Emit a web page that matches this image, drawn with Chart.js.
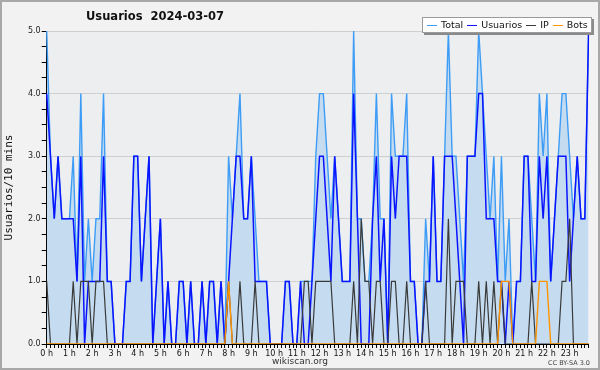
<!DOCTYPE html>
<html>
<head>
<meta charset="utf-8">
<title>Usuarios 2024-03-07</title>
<script src="https://cdn.jsdelivr.net/npm/chart.js@4.4.1/dist/chart.umd.min.js"></script>
<style>
  html, body { margin: 0; padding: 0; background: #f2f2f2; }
  #marco { position: relative; width: 600px; height: 370px; overflow: hidden; font-family: 'DejaVu Sans', sans-serif; }
  #grafico { position: absolute; left: 0; top: 0; }
  #borde { position: absolute; left: 0; top: 0; width: 600px; height: 370px; box-sizing: border-box; border: 2px solid #a8a8a8; pointer-events: none; }
  #titulo { position: absolute; left: 86px; top: 9px; font-weight: bold; font-size: 11.5px; color: #111; white-space: pre; }
  #leyenda { position: absolute; left: 422px; top: 17px; width: 168px; height: 14px; background: #fff; border: 1px solid #9a9a9a; box-shadow: 2px 2px 0 #8a8a8a; font-size: 9.5px; line-height: 14px; color: #111; white-space: nowrap; }
  #leyenda span.linea { display: inline-block; width: 10px; height: 0; border-top: 1.5px solid; vertical-align: middle; margin: 0 4px 0 4px; }
  #pie { position: absolute; left: 0; width: 600px; top: 356px; text-align: center; font-size: 9px; color: #333; }
  #licencia { position: absolute; right: 10px; top: 359px; font-size: 6.5px; color: #444; }
</style>
</head>
<body>
<div id="marco">
  <canvas id="grafico" width="600" height="370"></canvas>
  <div id="titulo">Usuarios  2024-03-07</div>
  <div id="leyenda"></div>
  <div id="pie">wikiscan.org</div>
  <div id="licencia">CC BY-SA 3.0</div>
  <div id="borde"></div>
</div>
<script>
// Etiquetas de hora del eje X (una cada 6 franjas de 10 min)
const horas = ['0 h', '1 h', '2 h', '3 h', '4 h', '5 h', '6 h', '7 h', '8 h', '9 h', '10 h', '11 h',
  '12 h', '13 h', '14 h', '15 h', '16 h', '17 h', '18 h', '19 h', '20 h', '21 h', '22 h', '23 h'];

// Valores por franja de 10 minutos (144 franjas)
const total = [
  5, 3, 2, 3, 2, 2, 2, 3, 1, 4,  1, 2, 1, 2, 2, 4, 1, 1, 0, 0,
  0, 1, 1, 3, 3, 1, 2, 3, 0, 1,  2, 0, 1, 0, 0, 1, 1, 0, 1, 0,
  0, 1, 0, 1, 1, 0, 1, 0, 3, 2,  3, 4, 2, 2, 3, 2, 1, 1, 1, 0,
  0, 0, 0, 1, 1, 0, 0, 1, 1, 1,  1, 3, 4, 4, 3, 2, 3, 2, 1, 1,
  1, 5, 2, 2, 1, 1, 2, 4, 2, 2,  0, 4, 3, 3, 3, 4, 1, 1, 0, 0,
  2, 1, 3, 1, 1, 3, 5, 3, 3, 2,  1, 3, 3, 3, 5, 4, 3, 2, 3, 1,
  3, 1, 2, 0, 1, 1, 3, 3, 2, 1,  4, 3, 4, 1, 2, 3, 4, 4, 3, 2,
  3, 2, 2, 5
];
const usuarios = [
  4, 3, 2, 3, 2, 2, 2, 2, 1, 3,  0, 1, 1, 1, 1, 3, 1, 1, 0, 0,
  0, 1, 1, 3, 3, 1, 2, 3, 0, 1,  2, 0, 1, 0, 0, 1, 1, 0, 1, 0,
  0, 1, 0, 1, 1, 0, 1, 0, 1, 2,  3, 3, 2, 2, 3, 1, 1, 1, 1, 0,
  0, 0, 0, 1, 1, 0, 0, 1, 0, 0,  1, 2, 3, 3, 2, 1, 3, 2, 1, 1,
  1, 4, 2, 0, 0, 0, 2, 3, 1, 2,  0, 3, 2, 3, 3, 3, 1, 1, 0, 0,
  1, 1, 3, 1, 1, 3, 3, 3, 2, 1,  0, 3, 3, 3, 4, 4, 2, 2, 2, 1,
  1, 0, 1, 0, 1, 1, 3, 3, 1, 1,  3, 2, 3, 1, 2, 3, 3, 3, 1, 2,
  3, 2, 2, 5
];
const ip = [
  1, 0, 0, 0, 0, 0, 0, 1, 0, 1,  1, 1, 0, 1, 1, 1, 0, 0, 0, 0,
  0, 0, 0, 0, 0, 0, 0, 0, 0, 0,  0, 0, 0, 0, 0, 0, 0, 0, 0, 0,
  0, 0, 0, 0, 0, 0, 0, 0, 1, 0,  0, 1, 0, 0, 0, 1, 0, 0, 0, 0,
  0, 0, 0, 0, 0, 0, 0, 0, 1, 1,  0, 1, 1, 1, 1, 1, 0, 0, 0, 0,
  0, 1, 0, 2, 1, 1, 0, 1, 1, 0,  0, 1, 1, 0, 0, 1, 0, 0, 0, 0,
  1, 0, 0, 0, 0, 0, 2, 0, 1, 1,  1, 0, 0, 0, 1, 0, 1, 0, 1, 0,
  1, 0, 0, 0, 0, 0, 0, 0, 1, 0,  0, 0, 0, 0, 0, 0, 1, 1, 2, 0,
  0, 0, 0, 0
];
const bots = [
  0, 0, 0, 0, 0, 0, 0, 0, 0, 0,  0, 0, 0, 0, 0, 0, 0, 0, 0, 0,
  0, 0, 0, 0, 0, 0, 0, 0, 0, 0,  0, 0, 0, 0, 0, 0, 0, 0, 0, 0,
  0, 0, 0, 0, 0, 0, 0, 0, 1, 0,  0, 0, 0, 0, 0, 0, 0, 0, 0, 0,
  0, 0, 0, 0, 0, 0, 0, 0, 0, 0,  0, 0, 0, 0, 0, 0, 0, 0, 0, 0,
  0, 0, 0, 0, 0, 0, 0, 0, 0, 0,  0, 0, 0, 0, 0, 0, 0, 0, 0, 0,
  0, 0, 0, 0, 0, 0, 0, 0, 0, 0,  0, 0, 0, 0, 0, 0, 0, 0, 0, 0,
  1, 1, 1, 0, 0, 0, 0, 0, 0, 0,  1, 1, 1, 0, 0, 0, 0, 0, 0, 0,
  0, 0, 0, 0
];

const colores = { total: '#3d9cf5', usuarios: '#0a14ff', ip: '#3a3a3a', bots: '#ff9400' };

// categorias: una por franja de 10 min
const franjas = [];
horas.forEach((h, i) => {
  ['00', '10', '20', '30', '40', '50'].forEach(m => franjas.push(i + ':' + m));
});

// leyenda en caja blanca arriba a la derecha
const series = [['Total', colores.total], ['Usuarios', colores.usuarios], ['IP', colores.ip], ['Bots', colores.bots]];
document.getElementById('leyenda').innerHTML = series
  .map(s => '<span class="linea" style="border-color:' + s[1] + '"></span>' + s[0])
  .join('');

// fondo del area de trazado
const fondoArea = {
  id: 'fondoArea',
  beforeDraw(chart) {
    const a = chart.chartArea;
    const ctx = chart.ctx;
    ctx.save();
    ctx.fillStyle = '#eceef0';
    ctx.fillRect(a.left, a.top, a.right - a.left, a.bottom - a.top);
    ctx.restore();
  }
};

const ctx = document.getElementById('grafico').getContext('2d');
new Chart(ctx, {
  type: 'line',
  data: {
    labels: franjas,
    datasets: [
      { label: 'Total', data: total, borderColor: colores.total, backgroundColor: '#c5dcf0',
        borderWidth: 1.4, fill: 'origin', order: 4 },
      { label: 'Usuarios', data: usuarios, borderColor: colores.usuarios, borderWidth: 1.5, fill: false, order: 3 },
      { label: 'IP', data: ip, borderColor: colores.ip, borderWidth: 1.2, fill: false, order: 2 },
      { label: 'Bots', data: bots, borderColor: colores.bots, borderWidth: 1.4, fill: false, order: 1 }
    ]
  },
  options: {
    responsive: false,
    animation: false,
    layout: { padding: { left: 0, right: 11.4, top: 31, bottom: 0 } },
    elements: {
      point: { radius: 0 },
      line: { tension: 0, borderJoinStyle: 'miter' }
    },
    plugins: {
      legend: { display: false },
      tooltip: { enabled: false }
    },
    scales: {
      x: {
        type: 'category',
        offset: false,
        afterFit(scale) { scale.height = 26; },
        border: { display: true, color: '#000', width: 1 },
        grid: { drawOnChartArea: false, drawTicks: true, tickLength: 4, tickColor: '#000' },
        ticks: {
          autoSkip: false,
          maxRotation: 0,
          padding: 1,
          color: '#111',
          font: { family: 'DejaVu Sans', size: 8 },
          callback: (v, i) => (i % 6 === 0 ? horas[i / 6] : '')
        }
      },
      y: {
        min: 0,
        max: 5,
        afterFit(scale) { scale.width = 46.7; },
        border: { display: true, color: '#000', width: 1 },
        grid: {
          drawTicks: true,
          tickLength: 5,
          tickColor: '#000',
          color: c => (c.tick && Number.isInteger(c.tick.value) && c.tick.value > 0 ? '#cfcfcf' : 'rgba(0,0,0,0)')
        },
        ticks: {
          stepSize: 0.25,
          autoSkip: false,
          padding: 1,
          color: '#222',
          font: { family: 'DejaVu Sans', size: 8 },
          callback: v => (Number.isInteger(v) ? v.toFixed(1) : '')
        },
        title: {
          display: true,
          text: 'Usuarios/10 mins',
          color: '#111',
          font: { family: 'DejaVu Sans Mono', size: 11 },
          padding: { top: 3, bottom: 0 }
        }
      }
    }
  },
  plugins: [fondoArea]
});
</script>
</body>
</html>
